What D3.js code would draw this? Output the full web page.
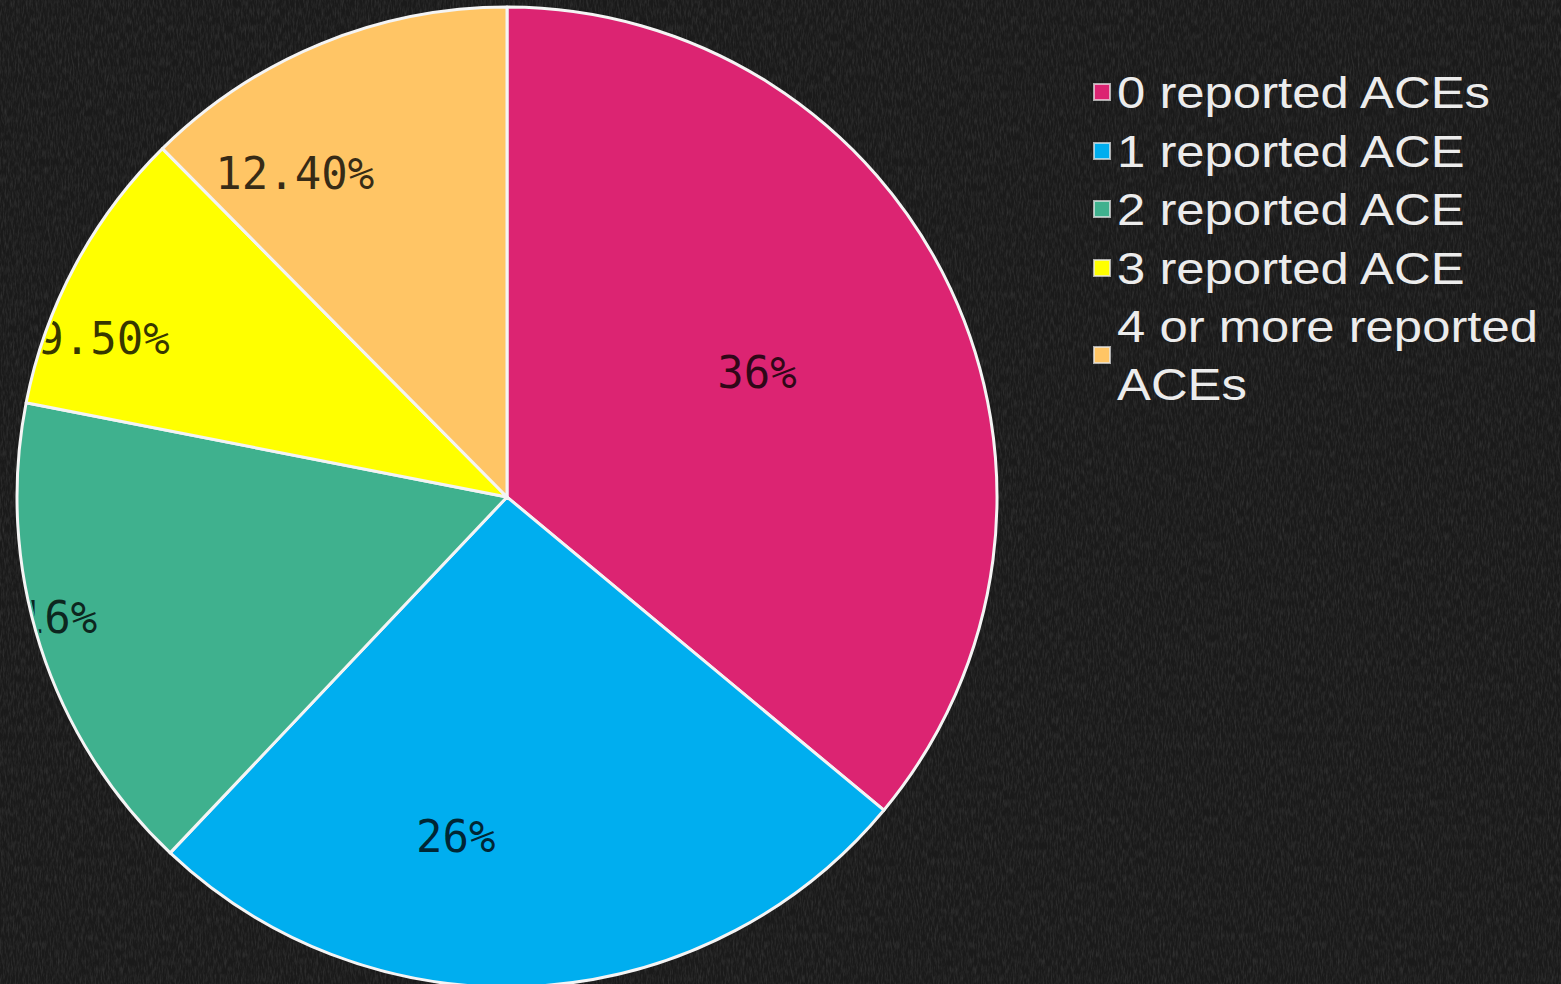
<!DOCTYPE html>
<html>
<head>
<meta charset="utf-8">
<script src="https://cdn.jsdelivr.net/npm/d3@7"></script>
<style>
  html, body { margin: 0; padding: 0; background: #1c1c1c; overflow: hidden; }
  svg { display: block; }
</style>
</head>
<body>
<svg id="chart" width="1561" height="984"></svg>
<script>
// ---- data ----
const categories = ["0 reported ACEs", "1 reported ACE", "2 reported ACE", "3 reported ACE", "4 or more reported ACEs"];
const values = [36, 26, 16, 9.5, 12.4];
const valueLabels = ["36%", "26%", "16%", "9.50%", "12.40%"];
const legendLines = [["0 reported ACEs"], ["1 reported ACE"], ["2 reported ACE"], ["3 reported ACE"], ["4 or more reported", "ACEs"]];

// ---- styling / layout (not data) ----
const colors = ["#dc2472", "#00aeef", "#3fb18e", "#ffff00", "#ffc565"];
// label placement tweaks (radius fraction, angle shift in degrees), mimicking "best fit"
const labelRadius = [0.57, 0.70, 0.95, 0.885, 0.79];
const labelAngleShift = [-1.3, 12, 2.7, -6.7, -10.9];

const W = 1561, H = 984;
const cx = 507, cy = 497, R = 490;

const svg = d3.select("#chart");
const defs = svg.append("defs");

// chalkboard texture
const filt = defs.append("filter").attr("id", "chalk").attr("x", 0).attr("y", 0).attr("width", "100%").attr("height", "100%");
filt.append("feTurbulence").attr("type", "fractalNoise").attr("baseFrequency", "0.6 0.12").attr("numOctaves", 3).attr("seed", 7).attr("result", "n");
filt.append("feColorMatrix").attr("in", "n").attr("type", "matrix")
  .attr("values", "0 0 0 0 1  0 0 0 0 1  0 0 0 0 1  0.9 0 0 0 -0.35").attr("result", "w");
filt.append("feComposite").attr("in", "w").attr("in2", "SourceGraphic").attr("operator", "in");

svg.append("rect").attr("width", W).attr("height", H).attr("fill", "#1a1a1a");
svg.append("rect").attr("width", W).attr("height", H).attr("fill", "#fff").attr("filter", "url(#chalk)").attr("opacity", 0.22);

const g = svg.append("g").attr("transform", `translate(${cx},${cy})`);

const pie = d3.pie().sort(null).value(d => d)(values);
const arc = d3.arc().innerRadius(0).outerRadius(R);

defs.append("clipPath").attr("id", "pieclip")
  .append("circle").attr("r", R - 3);

g.selectAll("path.slice").data(pie).join("path")
  .attr("class", "slice")
  .attr("d", arc)
  .attr("fill", (d, i) => colors[i])
  .attr("stroke", "#f4f4f4")
  .attr("stroke-width", 3)
  .attr("stroke-linejoin", "round");

const lbl = g.append("g").attr("clip-path", "url(#pieclip)");
lbl.selectAll("text").data(pie).join("text")
  .attr("x", (d, i) => {
    const a = (d.startAngle + d.endAngle) / 2 + labelAngleShift[i] * Math.PI / 180;
    return Math.sin(a) * R * labelRadius[i];
  })
  .attr("y", (d, i) => {
    const a = (d.startAngle + d.endAngle) / 2 + labelAngleShift[i] * Math.PI / 180;
    return -Math.cos(a) * R * labelRadius[i];
  })
  .attr("text-anchor", "middle")
  .attr("dominant-baseline", "central")
  .attr("font-family", "'DejaVu Sans Mono', monospace")
  .attr("font-size", 44)
  .attr("fill", "#000")
  .attr("fill-opacity", 0.78)
  .text((d, i) => valueLabels[i]);

// legend
const rowY = [92, 151, 209, 268, 355];
const leg = svg.append("g");
categories.forEach((c, i) => {
  const gi = leg.append("g").attr("transform", `translate(1093,${rowY[i]})`);
  gi.append("rect").attr("x", 1).attr("y", -8).attr("width", 16).attr("height", 16)
    .attr("fill", colors[i]).attr("stroke", "#e8e8e8").attr("stroke-opacity", 0.7).attr("stroke-width", 2);
  const lines = legendLines[i];
  const t = gi.append("text")
    .attr("font-family", "'Liberation Sans', Arial, sans-serif")
    .attr("font-size", 45)
    .attr("fill", "#ececec")
    .attr("transform", "translate(24,0) scale(1.13,1)");
  const lh = 59;
  const y0 = 16 - (lines.length - 1) * lh / 2;
  lines.forEach((ln, k) => {
    t.append("tspan").attr("x", 0).attr("y", y0 + k * lh).text(ln);
  });
});
</script>
</body>
</html>
